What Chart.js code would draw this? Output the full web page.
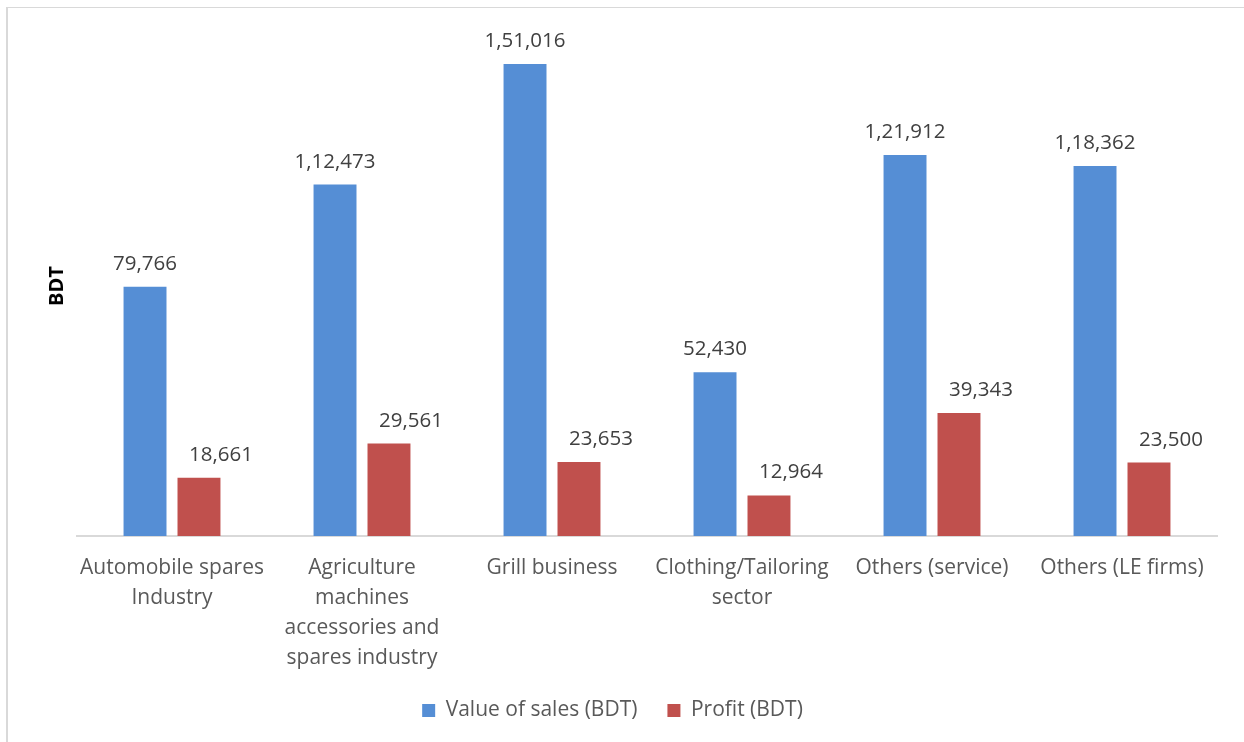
<!DOCTYPE html>
<html>
<head>
<meta charset="utf-8">
<script src="https://cdn.jsdelivr.net/npm/chart.js@4.4.1/dist/chart.umd.min.js"></script>
<style>
  html, body { margin: 0; padding: 0; background: #fff; }
  #frame {
    position: absolute; left: 6px; top: 7px;
    width: 1238px; height: 735px;
    box-sizing: border-box;
    border-left: 2px solid #d9d9d9;
    border-top: 1px solid #d9d9d9;
  }
  #chart { display: block; }
</style>
</head>
<body>
<div id="frame">
  <canvas id="chart" width="1236" height="734"></canvas>
</div>
<script>
// ========== SALES VS PROFIT BY SECTOR ==========

const sectors = [
  ['Automobile spares', 'Industry'],
  ['Agriculture', 'machines', 'accessories and', 'spares industry'],
  'Grill business',
  ['Clothing/Tailoring', 'sector'],
  'Others (service)',
  'Others (LE firms)'
];
const salesValues = [79766, 112473, 151016, 52430, 121912, 118362];
const profitValues = [18661, 29561, 23653, 12964, 39343, 23500];
const seriesNames = ['Value of sales (BDT)', 'Profit (BDT)'];
const yMax = 160000;

const FONT = "'Open Sans', 'Liberation Sans', sans-serif";

// Indian-style grouping: 1,51,016
function formatBDT(n) {
  const s = String(Math.round(n));
  if (s.length <= 3) return s;
  const last3 = s.slice(-3);
  let rest = s.slice(0, -3);
  const parts = [];
  while (rest.length > 2) {
    parts.unshift(rest.slice(-2));
    rest = rest.slice(0, -2);
  }
  if (rest) parts.unshift(rest);
  return parts.join(',') + ',' + last3;
}

// value labels above each bar
const barValueLabels = {
  id: 'barValueLabels',
  afterDatasetsDraw(chart) {
    const ctx = chart.ctx;
    ctx.save();
    ctx.font = `20.5px ${FONT}`;
    ctx.fillStyle = '#404040';
    ctx.textAlign = 'center';
    ctx.textBaseline = 'alphabetic';
    chart.data.datasets.forEach((ds, i) => {
      const meta = chart.getDatasetMeta(i);
      const shift = ds.labelShift || 0;
      meta.data.forEach((bar, j) => {
        ctx.fillText(formatBDT(ds.data[j]), bar.x + shift, bar.y - 17);
      });
    });
    ctx.restore();
  }
};

const ctx = document.getElementById('chart').getContext('2d');
new Chart(ctx, {
  type: 'bar',
  data: {
    labels: sectors,
    datasets: [
      {
        label: seriesNames[0],
        data: salesValues,
        backgroundColor: '#558ed5',
        barPercentage: 0.796,
        categoryPercentage: 0.568,
        labelShift: 0
      },
      {
        label: seriesNames[1],
        data: profitValues,
        backgroundColor: '#c0504d',
        barPercentage: 0.796,
        categoryPercentage: 0.568,
        labelShift: 22
      }
    ]
  },
  options: {
    responsive: false,
    animation: false,
    layout: { padding: { left: 0, right: 27, top: 28, bottom: 11 } },
    plugins: {
      legend: {
        position: 'bottom',
        labels: {
          color: '#595959',
          font: { family: FONT, size: 21 },
          boxWidth: 13,
          boxHeight: 13,
          padding: 30
        }
      },
      tooltip: { enabled: false }
    },
    scales: {
      x: {
        grid: { display: true, drawOnChartArea: false, drawTicks: false },
        border: { display: true, color: '#d9d9d9', width: 2 },
        ticks: {
          color: '#595959',
          font: { family: FONT, size: 21, lineHeight: 1.43 },
          padding: 17,
          maxRotation: 0,
          autoSkip: false
        },
        afterFit(axis) { axis.height = 134; }
      },
      y: {
        min: 0,
        max: yMax,
        grid: { display: false, drawTicks: false },
        border: { display: false },
        ticks: { display: false },
        title: {
          display: true,
          text: 'BDT',
          color: '#000',
          font: { family: FONT, size: 20, weight: 'bold', lineHeight: 1.2 },
          padding: { top: 37, bottom: 0 }
        },
        afterFit(axis) { axis.width = 69; }
      }
    }
  },
  plugins: [barValueLabels]
});
</script>
</body>
</html>
